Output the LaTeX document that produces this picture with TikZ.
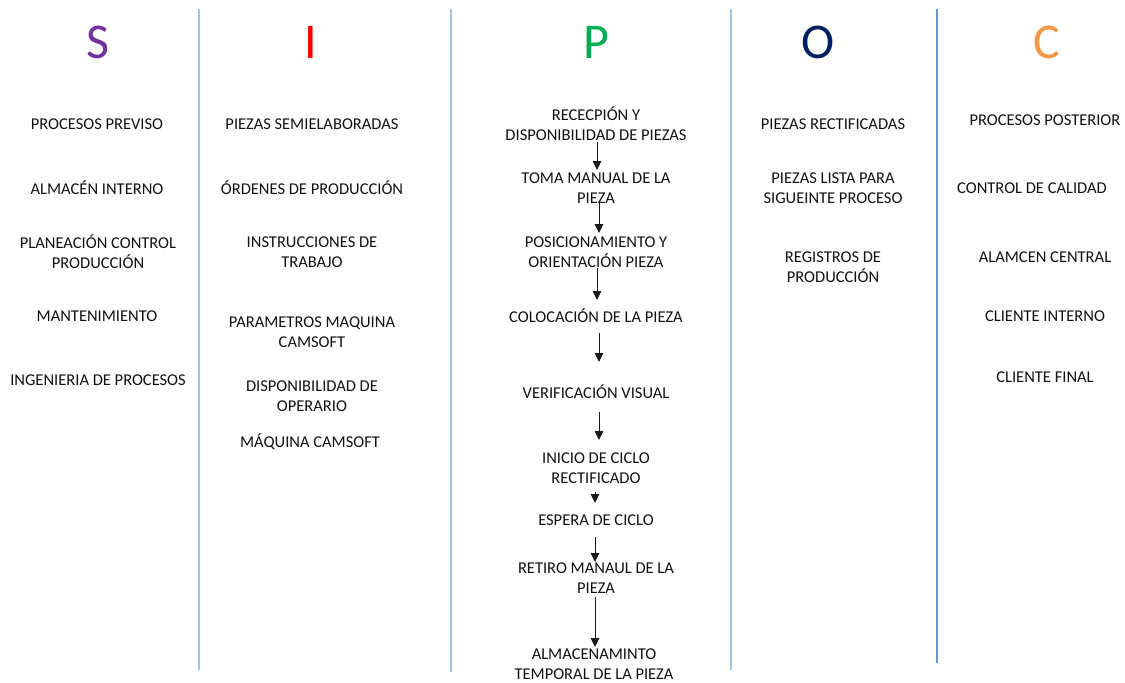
\documentclass[tikz,border=0pt]{standalone}
\usepackage{fontspec}
\setmainfont{Carlito}
\usetikzlibrary{arrows.meta,calc}
\definecolor{sepblue}{HTML}{9DC3E6}
\definecolor{sepdark}{HTML}{5B9BD5}
\definecolor{hS}{HTML}{7030A0}
\definecolor{hI}{HTML}{FF0000}
\definecolor{hP}{HTML}{00B050}
\definecolor{hO}{HTML}{002060}
\definecolor{hC}{HTML}{F79646}
\definecolor{txt}{HTML}{111111}
\tikzset{
  item/.style={align=center, inner sep=0pt, text=txt, font=\fontsize{16.5}{20}\selectfont},
  head/.style={inner sep=0pt, font=\fontsize{50}{50}\selectfont},
  sep/.style={line width=1.6pt, sepblue},
  arr/.style={draw=black!90, line width=0.9pt, -{Triangle[width=8.5pt,length=9pt]}}
}
\begin{document}
\begin{tikzpicture}[x=1pt,y=-1pt]
\useasboundingbox (0,0) rectangle (1125,683);

% column separators
\draw[sep] (199,9) -- (199,670);
\draw[sep] (451,9) -- (451,672);
\draw[sep] (731,9) -- (731,670);
\draw[sep, sepdark, line width=1.3pt] (937,9) -- (937,663);

% headings
\node[head, text=hS] (hs) at (98,42) {S};
\node[head, text=hI] (hi) at (311,42) {I};
\node[head, text=hP] (hp) at (596,42) {P};
\node[head, text=hO] (ho) at (818,42) {O};
\node[head, text=hC] (hc) at (1047,42) {C};

% suppliers
\node[item] (s1) at (97,124) {PROCESOS PREVISO};
\node[item] (s2) at (97,188) {ALMACÉN INTERNO};
\node[item] (s3) at (98,252) {PLANEACIÓN CONTROL\\PRODUCCIÓN};
\node[item] (s4) at (97,316) {MANTENIMIENTO};
\node[item] (s5) at (98,380) {INGENIERIA DE PROCESOS};

% inputs
\node[item] (i1) at (312,124) {PIEZAS SEMIELABORADAS};
\node[item] (i2) at (312,188) {ÓRDENES DE PRODUCCIÓN};
\node[item] (i3) at (312,252) {INSTRUCCIONES DE\\TRABAJO};
\node[item] (i4) at (312,332) {PARAMETROS MAQUINA\\CAMSOFT};
\node[item] (i5) at (312,396) {DISPONIBILIDAD DE\\OPERARIO};
\node[item] (i6) at (310,442) {MÁQUINA CAMSOFT};

% process steps
\node[item] (p1) at (596,124) {RECECPIÓN Y\\DISPONIBILIDAD DE PIEZAS};
\node[item] (p2) at (596,188) {TOMA MANUAL DE LA\\PIEZA};
\node[item] (p3) at (596,252) {POSICIONAMIENTO Y\\ORIENTACIÓN PIEZA};
\node[item] (p4) at (596,316) {COLOCACIÓN DE LA PIEZA};
\node[item] (p5) at (596,392) {VERIFICACIÓN VISUAL};
\node[item] (p6) at (596,468) {INICIO DE CICLO\\RECTIFICADO};
\node[item] (p7) at (596,520) {ESPERA DE CICLO};
\node[item] (p8) at (596,578) {RETIRO MANAUL DE LA\\PIEZA};
\node[item] (p9) at (594,664) {ALMACENAMINTO\\TEMPORAL DE LA PIEZA};

\draw[arr] ($(p1)+(1,18)$) -- ($(p2)+(1,-18)$);
\draw[arr] ($(p2)+(3,15)$) -- ($(p3)+(3,-19)$);
\draw[arr] ($(p3)+(1,16)$) -- ($(p4)+(1,-16)$);
\draw[arr] ($(p4)+(3,17)$) -- ($(p5)+(3,-30)$);
\draw[arr] ($(p5)+(3,20)$) -- ($(p6)+(3,-28)$);
\draw[arr] ($(p6)+(-1,24)$) -- ($(p7)+(-1,-17)$);
\draw[arr] ($(p7)+(-1,17)$) -- ($(p8)+(-1,-16)$);
\draw[arr] ($(p8)+(-1,19)$) -- ($(p9)+(1,-17)$);

% outputs
\node[item] (o1) at (833,124) {PIEZAS RECTIFICADAS};
\node[item] (o2) at (833,188) {PIEZAS LISTA PARA\\SIGUEINTE PROCESO};
\node[item] (o3) at (833,267) {REGISTROS DE\\PRODUCCIÓN};

% customers
\node[item] (c1) at (1045,120) {PROCESOS POSTERIOR};
\node[item] (c2) at (1032,188) {CONTROL DE CALIDAD};
\node[item] (c3) at (1045,257) {ALAMCEN CENTRAL};
\node[item] (c4) at (1045,316) {CLIENTE INTERNO};
\node[item] (c5) at (1045,377) {CLIENTE FINAL};
\end{tikzpicture}
\end{document}
